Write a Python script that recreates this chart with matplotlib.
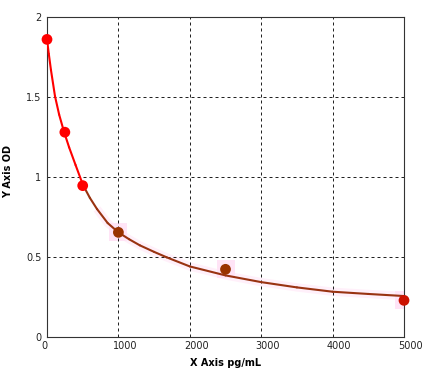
import matplotlib.pyplot as plt
import numpy as np
from matplotlib.collections import LineCollection
from matplotlib.transforms import ScaledTranslation

# standards (pg/mL vs OD)
std_x = [0, 250, 500, 1000, 2500, 5000]
std_y = [1.86, 1.28, 0.946, 0.654, 0.423, 0.229]
std_colors = ["#ff0000", "#ff0000", "#ff0000", "#993300", "#993300", "#cc1100"]

# fitted curve
curve_x = [0, 25, 55, 112, 170, 238, 310, 400, 504, 600, 700, 850, 1000,
           1150, 1300, 1500, 1676, 2000, 2500, 3000, 3500, 4000, 4500, 5000]
curve_y = [1.86, 1.77, 1.67, 1.505, 1.39, 1.283, 1.185, 1.075, 0.95, 0.87,
           0.80, 0.712, 0.654, 0.611, 0.573, 0.532, 0.498, 0.441, 0.385,
           0.343, 0.31, 0.283, 0.269, 0.256]

x_ticks = [0, 1000, 2000, 3000, 4000, 5000]
y_ticks = [0, 0.5, 1, 1.5, 2]
y_tick_labels = ["0", "0.5", "1", "1.5", "2"]

plt.rcParams["font.family"] = ["DejaVu Sans"]

fig = plt.figure(figsize=(4.34, 3.9), dpi=100)
ax = fig.add_axes([0.1083, 0.1359, 0.8226, 0.8205])

ax.set_xlim(0, 5000)
ax.set_ylim(0, 2)

# faint pink band along the lower part of the curve
cx = np.array(curve_x)
cy = np.array(curve_y)
mask = cx >= 700
ax.plot(cx[mask], cy[mask], color="#fff0fa", lw=6, solid_capstyle="butt",
        zorder=1)
ax.scatter(std_x[3:], std_y[3:], s=170, marker="s", color="#ffe4f6",
           linewidths=0, zorder=1)

# curve, red turning brown
pts = np.column_stack([cx, cy]).reshape(-1, 1, 2)
segs = np.concatenate([pts[:-1], pts[1:]], axis=1)
seg_colors = ["#ff0000" if x < 504 else "#993311" for x in cx[:-1]]
lc = LineCollection(segs, colors=seg_colors, linewidths=1.5, zorder=3,
                    capstyle="round", joinstyle="round")
ax.add_collection(lc)

ax.scatter(std_x, std_y, s=60, color=std_colors, linewidths=0, zorder=4,
           clip_on=False)

ax.set_xticks(x_ticks)
ax.set_yticks(y_ticks)
ax.set_yticklabels(y_tick_labels)
ax.tick_params(length=0, labelsize=7, pad=4, colors="#222222")
ax.tick_params(axis="x", pad=3)
offset = ScaledTranslation(-4 / 72, 0, fig.dpi_scale_trans)
for lab in ax.get_xticklabels():
    lab.set_horizontalalignment("left")
    lab.set_transform(lab.get_transform() + offset)

ax.grid(True, color="#222222", lw=0.72, dashes=(3, 3))
for sp in ax.spines.values():
    sp.set_color("#333333")
    sp.set_linewidth(0.8)

ax.set_xlabel("X Axis pg/mL", fontsize=7, fontweight="bold", labelpad=5)
ax.set_ylabel("Y Axis OD", fontsize=7, fontweight="bold")
ax.yaxis.set_label_coords(-0.095, 0.516)

plt.savefig("out.png", dpi=100)
plt.close()
